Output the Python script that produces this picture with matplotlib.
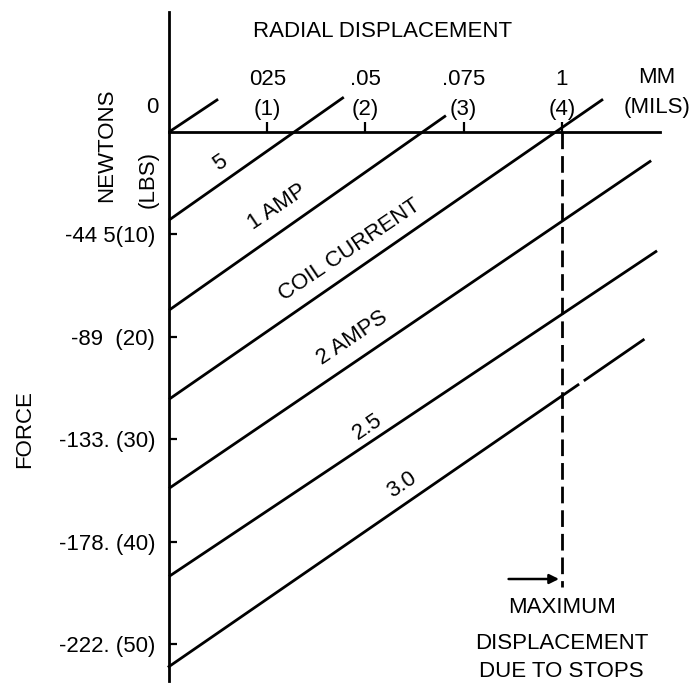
import numpy as np
import matplotlib
matplotlib.use("Agg")
import matplotlib.pyplot as plt

plt.rcParams['font.family'] = ['Liberation Sans', 'DejaVu Sans']

# radial displacement axis (mils), tick labels give mm and (mils)
disp_ticks = [1, 2, 3, 4]
disp_tick_labels = ["025\n(1)", ".05\n(2)", ".075\n(3)", "1\n(4)"]

# force axis (lbs), tick labels give newtons and (lbs)
force_ticks = [-10, -20, -30, -40, -50]
force_tick_labels = ["-44 5(10)", "-89  (20)", "-133. (30)", "-178. (40)", "-222. (50)"]

# one straight line per coil current: force at zero displacement and end point
line_start_force = [0, -8.6, -17.4, -26.1, -34.8, -43.4, -52.2]
line_end_disp = [0.50, 1.78, 2.82, 4.42, 4.91, 4.97, 4.83]
line_end_force = [3.2, 3.4, 1.6, 3.2, -2.8, -11.6, -20.3]

# small break in the last line
gap_disp = [4.165, 4.236]

line_labels = ["5", "1 AMP", "COIL CURRENT", "2 AMPS", "2.5", "3.0"]
label_disp = [0.52, 1.10, 1.84, 1.87, 2.02, 2.37]
label_force = [-3.0, -7.3, -11.5, -20.1, -28.8, -34.5]

stop_disp = 4.0
stop_bottom = -44.4

FS = 16

fig = plt.figure(figsize=(6.97, 6.85), dpi=100)
ax = fig.add_axes([0, 0, 1, 1])
ax.set_xlim(-1.721, 5.377)
ax.set_ylim(-54.0, 12.89)

lw = 2.0
for s in ["right", "bottom"]:
    ax.spines[s].set_visible(False)
ax.spines["left"].set_position(("data", 0))
ax.spines["left"].set_bounds(-53.6, 11.7)
ax.spines["top"].set_position(("data", 0))
ax.spines["top"].set_bounds(0, 5.0)
for s in ["left", "top"]:
    ax.spines[s].set_linewidth(lw)

ax.xaxis.tick_top()
ax.set_xticks(disp_ticks)
ax.set_xticklabels(disp_tick_labels)
ax.tick_params(axis="x", direction="out", length=7, width=1.6, pad=2, labelsize=FS)
for lab in ax.get_xticklabels():
    lab.set_linespacing(1.55)

ax.set_yticks(force_ticks)
ax.set_yticklabels(force_tick_labels)
ax.tick_params(axis="y", direction="in", length=6, width=1.6, pad=10, labelsize=FS)

# coil current lines
for i in range(len(line_start_force)):
    xs = np.array([0, line_end_disp[i]])
    ys = np.array([line_start_force[i], line_end_force[i]])
    if i == len(line_start_force) - 1:
        g = np.interp(gap_disp, xs, ys)
        ax.plot([0, gap_disp[0]], [ys[0], g[0]], color="black", lw=lw)
        ax.plot([gap_disp[1], xs[1]], [g[1], ys[1]], color="black", lw=lw)
    else:
        ax.plot(xs, ys, color="black", lw=lw, solid_capstyle="butt")

for txt, x, y in zip(line_labels, label_disp, label_force):
    ax.text(x, y, txt, rotation=34, ha="center", va="center",
            rotation_mode="anchor", fontsize=FS)

# maximum displacement due to stops
ax.plot([stop_disp, stop_disp], [0, stop_bottom], color="black", lw=lw,
        linestyle=(0, (6, 2.5)))
ax.annotate("", xy=(stop_disp, -43.65), xytext=(3.43, -43.65),
            arrowprops=dict(arrowstyle="-|>", color="black", lw=1.8, mutation_scale=14))
ax.text(stop_disp, -46.4, "MAXIMUM", ha="center", va="center", fontsize=FS)
ax.text(stop_disp, -49.9, "DISPLACEMENT", ha="center", va="center", fontsize=FS)
ax.text(stop_disp, -52.7, "DUE TO STOPS", ha="center", va="center", fontsize=FS)

# axis titles
ax.text(2.17, 9.77, "RADIAL DISPLACEMENT", ha="center", va="center", fontsize=FS)
ax.text(4.97, 5.37, "MM", ha="center", va="center", fontsize=FS)
ax.text(4.97, 2.44, "(MILS)", ha="center", va="center", fontsize=FS)
ax.text(-0.173, 2.44, "0", ha="center", va="center", fontsize=FS)
ax.text(-0.632, -1.27, "NEWTONS", rotation=90, ha="center", va="center", fontsize=FS)
ax.text(-0.214, -4.59, "(LBS)", rotation=90, ha="center", va="center", fontsize=FS)
ax.text(-1.466, -29.0, "FORCE", rotation=90, ha="center", va="center", fontsize=FS)

fig.savefig("out.png", dpi=100)
